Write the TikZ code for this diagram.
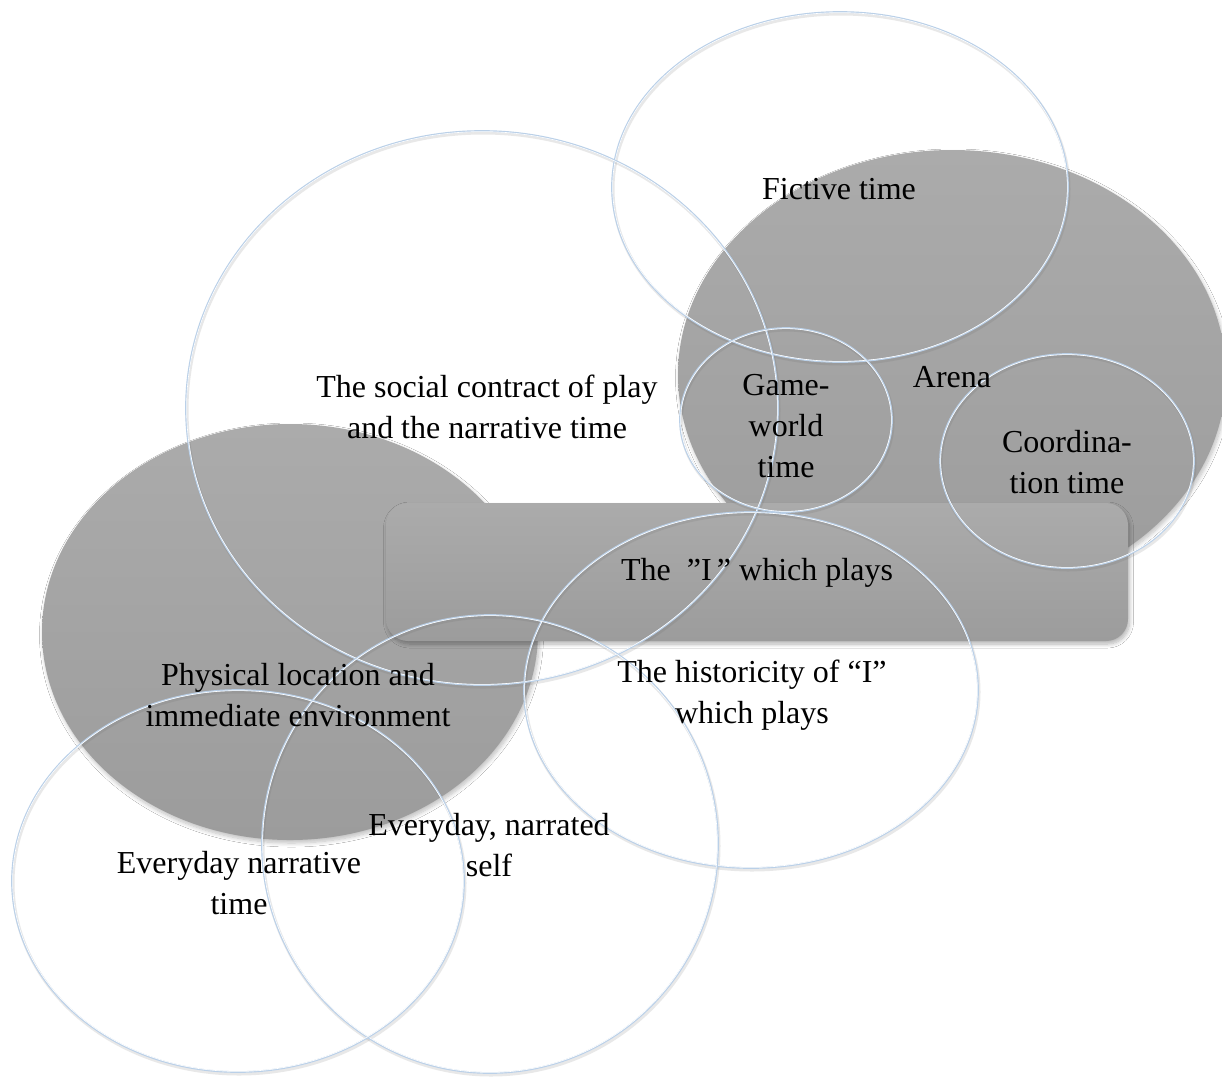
\documentclass[tikz,border=0pt]{standalone}
\usepackage{fontspec}
\setmainfont{Liberation Serif}
\newfontfamily\timesfam{Liberation Serif}
\usetikzlibrary{shapes.geometric,shadows.blur}
\definecolor{ringblue}{RGB}{186,208,232}
\definecolor{graytop}{RGB}{171,171,171}
\definecolor{graybot}{RGB}{156,156,156}
\tikzset{
  blob/.style={ellipse, inner sep=0pt, draw=none, top color=graytop, bottom color=graybot,
    blur shadow={shadow xshift=1.5pt, shadow yshift=-3pt, shadow blur steps=8, shadow opacity=25, shadow blur radius=4pt}},
  pill/.style={rectangle, rounded corners=22pt, inner sep=0pt, draw=none, top color=graytop, bottom color=graybot,
    blur shadow={shadow xshift=1.5pt, shadow yshift=-3pt, shadow blur steps=8, shadow opacity=30, shadow blur radius=4pt}},
  ringshade/.style={ellipse, inner sep=0pt, draw=black!60, draw opacity=0.15, line width=3pt, xshift=1pt, yshift=-2pt},
  ring/.style={ellipse, inner sep=0pt, draw=ringblue, line width=1.7pt},
  ringhi/.style={ellipse, inner sep=0pt, draw=white, line width=0.6pt},
  lbl/.style={align=center, font=\timesfam\fontsize{32}{41}\selectfont, text=black, inner sep=0pt}
}
\begin{document}
\begin{tikzpicture}[x=1pt,y=-1pt]
\useasboundingbox[fill=white] (0,0) rectangle (1222,1080);
% filled shapes
\node[blob, minimum width=548, minimum height=450] (arena) at (952,375) {};
\node[blob, minimum width=496, minimum height=416] (phys) at (290,632) {};
\node[pill, minimum width=742, minimum height=138] (iplays) at (757,572) {};
% rings
\foreach \n/\x/\y/\w/\h in {fict/840/187/456/350, social/482/408/592/554, game/786/420/212/184,
  coord/1067/461/254/214, hist/751/690/454/356, self/490/844/456/458, narr/238/881/452/382}{
  \node[ringshade, minimum width=\w, minimum height=\h] at (\x,\y) {};
}
\foreach \n/\x/\y/\w/\h in {fict/840/187/456/350, social/482/408/592/554, game/786/420/212/184,
  coord/1067/461/254/214, hist/751/690/454/356, self/490/844/456/458, narr/238/881/452/382}{
  \node[ring, minimum width=\w, minimum height=\h] (\n) at (\x,\y) {};
  \node[ringhi, minimum width=\w-1.2, minimum height=\h-1.2] at (\x,\y) {};
}
% labels
\node[lbl] (tfict) at (839,189) {Fictive time};
\node[lbl] (tsocial) at (487,407) {The social contract of play\\and the narrative time};
\node[lbl] (tgame) at (786,426) {Game-\\world\\time};
\node[lbl] (tarena) at (952,377) {Arena};
\node[lbl] (tcoord) at (1067,462) {Coordina-\\tion time};
\node[lbl] (tiplays) at (757,573) {The \ ”I\,” which plays};
\node[lbl] (thist) at (752,695) {The historicity of “I”\\which plays};
\node[lbl] (tphys) at (298,695) {Physical location and\\immediate environment};
\node[lbl] (tself) at (489,845) {Everyday, narrated\\self};
\node[lbl] (tnarr) at (239,883) {Everyday narrative\\time};
\end{tikzpicture}
\end{document}
